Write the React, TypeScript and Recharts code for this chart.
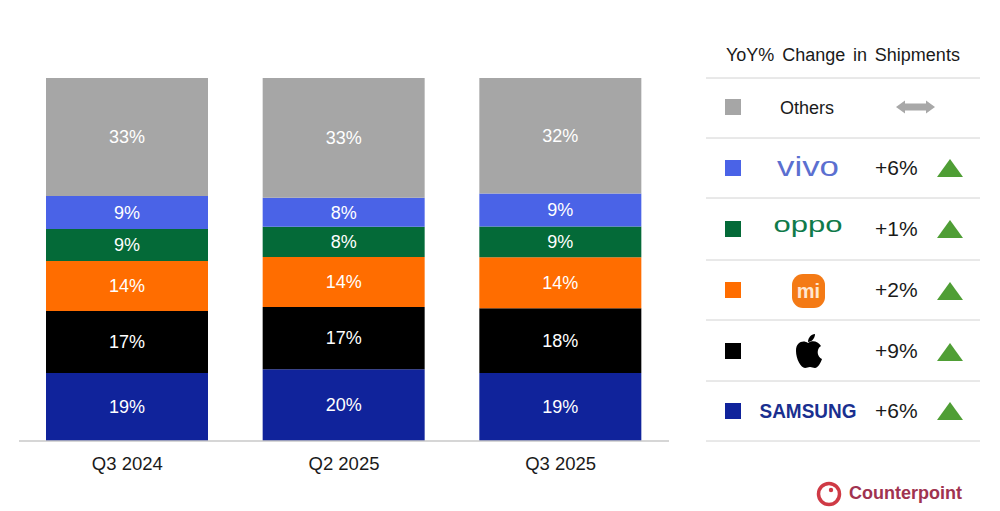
import { Bar, BarChart, LabelList, XAxis, YAxis } from 'recharts'

const quarters = ['Q3 2024', 'Q2 2025', 'Q3 2025']

const samsung = [18.7, 19.8, 18.7]
const apple = [17.1, 17.1, 17.9]
const xiaomi = [13.8, 13.8, 14.0]
const oppo = [8.8, 8.3, 8.5]
const vivo = [9.1, 8.0, 9.1]
const others = [32.5, 33.0, 31.8]

const seriesNames = ['Samsung', 'Apple', 'Xiaomi', 'OPPO', 'vivo', 'Others']
const seriesValues = [samsung, apple, xiaomi, oppo, vivo, others]
const seriesColors = ['#10239b', '#000000', '#ff6d00', '#046a38', '#4a63e7', '#a6a6a6']

// legend rows, top to bottom
const legendNames = ['Others', 'vivo', 'OPPO', 'Xiaomi', 'Apple', 'Samsung']
const legendDeltas = [null, '+6%', '+1%', '+2%', '+9%', '+6%']

const rows = quarters.map((quarter, i) => {
  const row: Record<string, string | number> = { quarter }
  seriesNames.forEach((name, s) => {
    row[name] = seriesValues[s][i]
  })
  return row
})

const FONT = '"Liberation Sans", Arial, sans-serif'
const ruleYs = [78, 138, 198, 260, 320, 381, 441]
const swatchYs = [99, 160, 221, 282, 343, 403]
const triangleYs = [159, 159, 220, 282, 343, 402]

function BrandMark({ name, y }: { name: string; y: number }) {
  if (name === 'Others') {
    return (
      <text x={807} y={y + 7} textAnchor="middle" fontSize={18} fill="#1a1a1a">
        Others
      </text>
    )
  }
  if (name === 'vivo') {
    return (
      <text x={808} y={y + 8} textAnchor="middle" fontSize={27} fill="#5b6fd0" textLength={62} lengthAdjust="spacingAndGlyphs">
        vivo
      </text>
    )
  }
  if (name === 'OPPO') {
    return (
      <text x={808} y={y + 3} textAnchor="middle" fontSize={22} fill="#0f7a4a" textLength={69} lengthAdjust="spacingAndGlyphs">
        oppo
      </text>
    )
  }
  if (name === 'Xiaomi') {
    return (
      <g>
        <rect x={792} y={y - 16} width={33} height={34} rx={11} fill="#f47a15" />
        <text x={808.5} y={y + 8} textAnchor="middle" fontSize={20} fontWeight={700} fill="#ffe6cf">
          mi
        </text>
      </g>
    )
  }
  if (name === 'Apple') {
    return (
      <g transform={`translate(809 ${y + 1})`} fill="#000">
        <path d="M-1 -9 C-5 -12 -13 -11 -13 -1 C-13 7 -8 16 -4 16 C-2 16 -1 15 1 15 C3 15 4 16 6 16 C9 16 12 10 13 7 C8 5 7 -3 12 -6 C9 -11 3 -12 -1 -9 Z" />
        <path d="M-1 -10 C-1 -14 2 -18 6 -18 C6 -14 3 -10 -1 -10 Z" />
      </g>
    )
  }
  return (
    <text x={808} y={y + 7} textAnchor="middle" fontSize={21} fontWeight={700} fill="#1a2f8f" textLength={97} lengthAdjust="spacingAndGlyphs">
      SAMSUNG
    </text>
  )
}

function SidePanel() {
  return (
    <svg width={1000} height={511} style={{ position: 'absolute', left: 0, top: 0, fontFamily: FONT }}>
      <text x={726} y={61} fontSize={18} fill="#1a1a1a" wordSpacing={2.8}>
        YoY% Change in Shipments
      </text>
      {ruleYs.map((y) => (
        <line key={y} x1={706} x2={980} y1={y} y2={y} stroke="#d2d2d2" strokeWidth={1} />
      ))}
      {legendNames.map((name, i) => {
        const color = seriesColors[seriesNames.indexOf(name)]
        const midY = swatchYs[i] + 8
        const triY = triangleYs[i]
        return (
          <g key={name}>
            <rect x={725} y={swatchYs[i]} width={16} height={16} fill={color} />
            <BrandMark name={name} y={midY} />
            {legendDeltas[i] ? (
              <g>
                <text x={875} y={midY + 7} fontSize={21} fill="#1a1a1a">
                  {legendDeltas[i]}
                </text>
                <polygon points={`950,${triY} 963,${triY + 18} 937,${triY + 18}`} fill="#4f9e35" />
              </g>
            ) : (
              <polygon
                points="896,107 905,100.5 905,103.5 926,103.5 926,100.5 935,107 926,113.5 926,110.5 905,110.5 905,113.5"
                fill="#a8a8a8"
              />
            )}
          </g>
        )
      })}
      <g>
        <circle cx={829} cy={494} r={10.5} fill="none" stroke="#cf3a45" strokeWidth={3.5} />
        <circle cx={831} cy={490} r={2.2} fill="#cf3a45" />
        <text x={849} y={499} fontSize={18} fontWeight={700} fill="#a03350">
          Counterpoint
        </text>
      </g>
    </svg>
  )
}

export default function App() {
  return (
    <div style={{ position: 'absolute', left: 0, top: 0, width: 1000, height: 511, background: '#fff', fontFamily: FONT }}>
      <BarChart
        width={669}
        height={511}
        data={rows}
        margin={{ top: 78, right: 0, left: 19, bottom: 40 }}
        style={{ position: 'absolute', left: 0, top: 0 }}
      >
        <XAxis
          dataKey="quarter"
          height={30}
          interval={0}
          tickLine={false}
          axisLine={{ stroke: '#c8c8c8', strokeWidth: 1.5 }}
          tickMargin={10}
          tick={{ fill: '#1a1a1a', fontSize: 18.5, fontFamily: FONT }}
        />
        <YAxis hide domain={[0, 100]} />
        {seriesNames.map((name, s) => (
          <Bar key={name} dataKey={name} stackId="share" fill={seriesColors[s]} barSize={162} isAnimationActive={false}>
            <LabelList
              dataKey={name}
              position="center"
              formatter={(v: number) => `${Math.round(v)}%`}
              fill="#ffffff"
              fontSize={18}
              fontFamily={FONT}
            />
          </Bar>
        ))}
      </BarChart>
      <SidePanel />
    </div>
  )
}
